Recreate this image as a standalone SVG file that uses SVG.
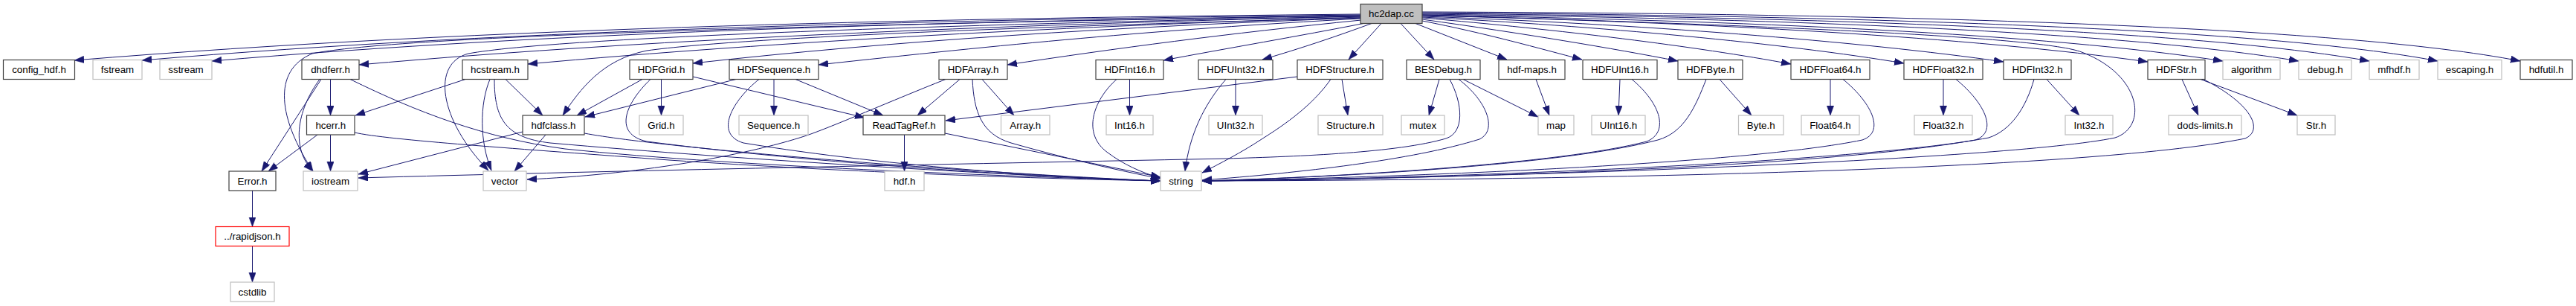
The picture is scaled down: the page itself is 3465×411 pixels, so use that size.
<svg xmlns="http://www.w3.org/2000/svg" width="3465" height="411" viewBox="0 0 3465 411">
<defs>
<marker id="ah" markerUnits="userSpaceOnUse" markerWidth="14" markerHeight="10" refX="13" refY="4.65" orient="auto">
<path d="M0,0 L13,4.65 L0,9.3 z" fill="#191970" stroke="#191970" stroke-width="0.5"/>
</marker>
</defs>
<style>
rect{fill:#ffffff;stroke-width:1.2}
.doc rect{stroke:#404040}
.ext rect{stroke:#bfbfbf}
.red rect{stroke:#ff0000}
.root rect{fill:#bfbfbf;stroke:#404040}
text{font-family:"Liberation Sans",Arial,Helvetica,sans-serif;font-size:13.33px;fill:#000000;text-anchor:middle}
#edges path{fill:none;stroke:#191970;stroke-width:1;marker-end:url(#ah)}
</style>
<rect x="0" y="0" width="3465" height="411" style="fill:#ffffff;stroke:none"/>
<g id="edges">
<!-- hc2dap to left row2 -->
<path d="M1830,19 C1300,24 650,36 100,81"/>
<path d="M1830,20 C1300,26 700,38 191,81"/>
<path d="M1830,21 C1300,28 750,42 285,82"/>
<path d="M1830,22 C1400,32 900,50 483,87"/>
<path d="M1830,23 C1450,35 1050,55 710,86"/>
<path d="M1830,24 C1500,36 1200,55 932,85"/>
<path d="M1830,25 C1550,40 1350,60 1101,87"/>
<path d="M1831,27 C1650,45 1500,65 1355,87"/>
<path d="M1834,31.5 C1750,48 1650,65 1565,81"/>
<path d="M1845,31.5 C1800,48 1750,65 1698,80"/>
<path d="M1858,31.5 L1814,80"/>
<!-- hc2dap curves to deeper nodes -->
<path d="M1830,21 C1300,30 560,44 420,72 C365,95 375,160 421,230"/>
<path d="M1830,22 C1300,32 750,50 630,72 C580,85 590,160 657,229"/>
<path d="M1830,24 C1400,35 1000,50 870,68 C810,80 780,120 757,155"/>
<path d="M1913,20 C2400,35 2750,50 2800,70 C2880,100 2890,170 2845,185 C2700,215 2000,240 1617,243"/>
<!-- hc2dap to right row2 -->
<path d="M1884,31.5 L1929,80"/>
<path d="M1904,31.5 L2027,80"/>
<path d="M1913,28 C2000,45 2070,65 2128,80"/>
<path d="M1913,26 C2050,45 2170,65 2257,82"/>
<path d="M1913,24 C2100,40 2280,62 2409,86"/>
<path d="M1913,23 C2150,35 2400,58 2561,85"/>
<path d="M1913,22 C2200,32 2500,55 2695,83"/>
<path d="M1913,21 C2300,30 2650,50 2889,83"/>
<path d="M1913,20 C2350,28 2750,45 2990,82"/>
<path d="M1913,19 C2400,25 2850,42 3092,82"/>
<path d="M1913,18 C2450,23 2950,40 3187,82"/>
<path d="M1913,17 C2500,21 3050,38 3279,82"/>
<path d="M1913,16 C2550,18 3150,35 3390,82"/>
<!-- dhdferr -->
<path d="M444.5,106.5 L444.5,155"/>
<path d="M432,106.5 L352,230"/>
<path d="M430,106.5 C398,150 392,200 421,230"/>
<path d="M471,106.5 C560,150 650,185 760,200 C1000,225 1400,238 1561,243"/>
<!-- hcerr -->
<path d="M427,181 L361,230"/>
<path d="M444.5,181 L444.5,230"/>
<path d="M477,178 C520,188 700,200 900,215 C1150,232 1400,240 1561,243"/>
<!-- hcstream -->
<path d="M626,106.5 L478,155"/>
<path d="M659,106.5 C645,140 645,190 661,229"/>
<path d="M680,106.5 L730,155"/>
<path d="M665,106.5 C665,160 680,185 740,192 C1000,215 1400,238 1561,243"/>
<!-- hdfclass -->
<path d="M734,181 L692,230"/>
<path d="M703,177 L482,234"/>
<path d="M786,179 C900,200 1300,232 1561,243"/>
<!-- HDFGrid -->
<path d="M864,106.5 L776,155"/>
<path d="M889.5,106.5 L889.5,155"/>
<path d="M875,106.5 C840,140 825,180 870,190 C1100,220 1400,238 1561,243"/>
<path d="M932,103 L1163,158"/>
<!-- HDFSequence -->
<path d="M990,106.5 L787,157"/>
<path d="M1041,106.5 L1041,155"/>
<path d="M1021,106.5 C985,135 960,180 1000,192 C1200,225 1450,240 1561,243"/>
<path d="M1070,106.5 L1188,155"/>
<!-- HDFArray -->
<path d="M1291,106.5 L1234,155"/>
<path d="M1321,106.5 L1364,155"/>
<path d="M1308,106.5 C1310,150 1320,180 1360,192 C1430,212 1500,228 1561,240"/>
<path d="M1272,106.5 C1200,135 1120,170 1085,182 C1000,210 850,235 709,241"/>
<!-- HDFInt16 -->
<path d="M1519.5,106.5 L1519.5,155"/>
<path d="M1502,106.5 C1470,135 1455,180 1490,205 C1510,220 1535,232 1561,239"/>
<!-- HDFUInt32 -->
<path d="M1662,106.5 L1662,155"/>
<path d="M1649,106.5 C1620,140 1600,180 1594,230"/>
<!-- HDFStructure -->
<path d="M1805,106.5 L1813,155"/>
<path d="M1790,106.5 C1770,135 1740,160 1700,185 C1670,205 1640,220 1617,232"/>
<path d="M1745,103 L1272,162"/>
<!-- BESDebug -->
<path d="M1936,106.5 L1922,155"/>
<path d="M1968,106.5 L2069,157"/>
<path d="M1950,106.5 C1968,140 1970,178 1945,186 C1880,205 1750,210 1650,213 C1200,222 800,230 482,239"/>
<path d="M1962,106.5 C2000,135 2015,175 1990,187 C1900,215 1750,232 1617,242"/>
<!-- hdf-maps -->
<path d="M2066,106.5 L2084,155"/>
<!-- HDFUInt16 -->
<path d="M2179,106.5 L2177,155"/>
<path d="M2195,106.5 C2235,140 2245,178 2215,190 C2100,220 1800,238 1617,243"/>
<!-- HDFByte -->
<path d="M2313,106.5 L2356,155"/>
<path d="M2295,106.5 C2280,145 2265,178 2230,188 C2100,222 1800,238 1617,243"/>
<!-- HDFFloat64 -->
<path d="M2462,106.5 L2462,155"/>
<path d="M2479,106.5 C2520,140 2535,178 2505,188 C2350,220 1900,238 1617,243"/>
<!-- HDFFloat32 -->
<path d="M2614,106.5 L2614,155"/>
<path d="M2631,106.5 C2672,140 2687,178 2657,188 C2450,225 1950,240 1617,243"/>
<!-- HDFInt32 -->
<path d="M2753,106.5 L2797,155"/>
<path d="M2736,106.5 C2725,145 2705,175 2675,185 C2500,218 1950,240 1617,243"/>
<!-- HDFStr -->
<path d="M2935,106.5 L2957,155"/>
<path d="M2960,106.5 L3090,155"/>
<path d="M2964,106.5 C3030,140 3045,175 3020,186 C2800,230 2100,242 1617,243"/>
<!-- ReadTagRef -->
<path d="M1216.5,181 L1216.5,230"/>
<path d="M1271,179 L1561,238"/>
<!-- Error / rapidjson -->
<path d="M339.5,256 L339.5,304.5"/>
<path d="M339.5,330.5 L339.5,379"/>
</g>
<g id="n_hc2dap" class="root"><rect x="1830" y="5.5" width="83" height="26"/><text x="1871.5" y="23.2">hc2dap.cc</text></g>
<g id="n_config_hdf" class="doc"><rect x="4.5" y="80.5" width="96" height="26"/><text x="52.5" y="98.2">config_hdf.h</text></g>
<g id="n_fstream" class="ext"><rect x="125" y="80.5" width="66" height="26"/><text x="158" y="98.2">fstream</text></g>
<g id="n_sstream" class="ext"><rect x="215" y="80.5" width="70" height="26"/><text x="250" y="98.2">sstream</text></g>
<g id="n_dhdferr" class="doc"><rect x="406" y="80.5" width="77" height="26"/><text x="444.5" y="98.2">dhdferr.h</text></g>
<g id="n_hcstream" class="doc"><rect x="622" y="80.5" width="88" height="26"/><text x="666" y="98.2">hcstream.h</text></g>
<g id="n_HDFGrid" class="doc"><rect x="847" y="80.5" width="85" height="26"/><text x="889.5" y="98.2">HDFGrid.h</text></g>
<g id="n_HDFSequence" class="doc"><rect x="981" y="80.5" width="120" height="26"/><text x="1041" y="98.2">HDFSequence.h</text></g>
<g id="n_HDFArray" class="doc"><rect x="1263" y="80.5" width="92" height="26"/><text x="1309" y="98.2">HDFArray.h</text></g>
<g id="n_HDFInt16" class="doc"><rect x="1474" y="80.5" width="91" height="26"/><text x="1519.5" y="98.2">HDFInt16.h</text></g>
<g id="n_HDFUInt32" class="doc"><rect x="1612" y="80.5" width="100" height="26"/><text x="1662" y="98.2">HDFUInt32.h</text></g>
<g id="n_HDFStructure" class="doc"><rect x="1745" y="80.5" width="115" height="26"/><text x="1802.5" y="98.2">HDFStructure.h</text></g>
<g id="n_BESDebug" class="doc"><rect x="1892" y="80.5" width="99" height="26"/><text x="1941.5" y="98.2">BESDebug.h</text></g>
<g id="n_hdf_maps" class="doc"><rect x="2016" y="80.5" width="89" height="26"/><text x="2060.5" y="98.2">hdf-maps.h</text></g>
<g id="n_HDFUInt16" class="doc"><rect x="2129" y="80.5" width="100" height="26"/><text x="2179" y="98.2">HDFUInt16.h</text></g>
<g id="n_HDFByte" class="doc"><rect x="2257" y="80.5" width="87" height="26"/><text x="2300.5" y="98.2">HDFByte.h</text></g>
<g id="n_HDFFloat64" class="doc"><rect x="2409" y="80.5" width="106" height="26"/><text x="2462" y="98.2">HDFFloat64.h</text></g>
<g id="n_HDFFloat32" class="doc"><rect x="2561" y="80.5" width="106" height="26"/><text x="2614" y="98.2">HDFFloat32.h</text></g>
<g id="n_HDFInt32" class="doc"><rect x="2695" y="80.5" width="91" height="26"/><text x="2740.5" y="98.2">HDFInt32.h</text></g>
<g id="n_HDFStr" class="doc"><rect x="2889" y="80.5" width="77" height="26"/><text x="2927.5" y="98.2">HDFStr.h</text></g>
<g id="n_algorithm" class="ext"><rect x="2990" y="80.5" width="77" height="26"/><text x="3028.5" y="98.2">algorithm</text></g>
<g id="n_debug" class="ext"><rect x="3092" y="80.5" width="71" height="26"/><text x="3127.5" y="98.2">debug.h</text></g>
<g id="n_mfhdf" class="ext"><rect x="3187" y="80.5" width="67" height="26"/><text x="3220.5" y="98.2">mfhdf.h</text></g>
<g id="n_escaping" class="ext"><rect x="3279" y="80.5" width="86" height="26"/><text x="3322" y="98.2">escaping.h</text></g>
<g id="n_hdfutil" class="doc"><rect x="3390" y="80.5" width="70" height="26"/><text x="3425" y="98.2">hdfutil.h</text></g>
<g id="n_hcerr" class="doc"><rect x="412.5" y="155" width="64.5" height="26"/><text x="444.75" y="172.7">hcerr.h</text></g>
<g id="n_hdfclass" class="doc"><rect x="703" y="155" width="83" height="26"/><text x="744.5" y="172.7">hdfclass.h</text></g>
<g id="n_Grid" class="ext"><rect x="860" y="155" width="59" height="26"/><text x="889.5" y="172.7">Grid.h</text></g>
<g id="n_Sequence" class="ext"><rect x="994" y="155" width="93" height="26"/><text x="1040.5" y="172.7">Sequence.h</text></g>
<g id="n_ReadTagRef" class="doc"><rect x="1161" y="155" width="110" height="26"/><text x="1216" y="172.7">ReadTagRef.h</text></g>
<g id="n_Array" class="ext"><rect x="1346.5" y="155" width="65.5" height="26"/><text x="1379.25" y="172.7">Array.h</text></g>
<g id="n_Int16" class="ext"><rect x="1488" y="155" width="63" height="26"/><text x="1519.5" y="172.7">Int16.h</text></g>
<g id="n_UInt32" class="ext"><rect x="1626" y="155" width="72" height="26"/><text x="1662" y="172.7">UInt32.h</text></g>
<g id="n_Structure" class="ext"><rect x="1773" y="155" width="87" height="26"/><text x="1816.5" y="172.7">Structure.h</text></g>
<g id="n_mutex" class="ext"><rect x="1885" y="155" width="58" height="26"/><text x="1914" y="172.7">mutex</text></g>
<g id="n_map" class="ext"><rect x="2069" y="155" width="48" height="26"/><text x="2093" y="172.7">map</text></g>
<g id="n_UInt16" class="ext"><rect x="2141" y="155" width="72" height="26"/><text x="2177" y="172.7">UInt16.h</text></g>
<g id="n_Byte" class="ext"><rect x="2338.5" y="155" width="60.5" height="26"/><text x="2368.75" y="172.7">Byte.h</text></g>
<g id="n_Float64" class="ext"><rect x="2423" y="155" width="78" height="26"/><text x="2462" y="172.7">Float64.h</text></g>
<g id="n_Float32" class="ext"><rect x="2575" y="155" width="78" height="26"/><text x="2614" y="172.7">Float32.h</text></g>
<g id="n_Int32" class="ext"><rect x="2778" y="155" width="64" height="26"/><text x="2810" y="172.7">Int32.h</text></g>
<g id="n_dods_limits" class="ext"><rect x="2917" y="155" width="98" height="26"/><text x="2966" y="172.7">dods-limits.h</text></g>
<g id="n_Str" class="ext"><rect x="3090" y="155" width="51" height="26"/><text x="3115.5" y="172.7">Str.h</text></g>
<g id="n_Error" class="doc"><rect x="308" y="230" width="63" height="26"/><text x="339.5" y="247.7">Error.h</text></g>
<g id="n_iostream" class="ext"><rect x="408" y="230" width="73" height="26"/><text x="444.5" y="247.7">iostream</text></g>
<g id="n_vector" class="ext"><rect x="650" y="230" width="58" height="26"/><text x="679" y="247.7">vector</text></g>
<g id="n_hdf" class="ext"><rect x="1190" y="230" width="53" height="26"/><text x="1216.5" y="247.7">hdf.h</text></g>
<g id="n_string" class="ext"><rect x="1561" y="230" width="55" height="26"/><text x="1588.5" y="247.7">string</text></g>
<g id="n_rapidjson" class="red"><rect x="290" y="304.5" width="99" height="26"/><text x="339.5" y="322.2">../rapidjson.h</text></g>
<g id="n_cstdlib" class="ext"><rect x="310" y="379" width="59" height="26"/><text x="339.5" y="396.7">cstdlib</text></g>
</svg>
